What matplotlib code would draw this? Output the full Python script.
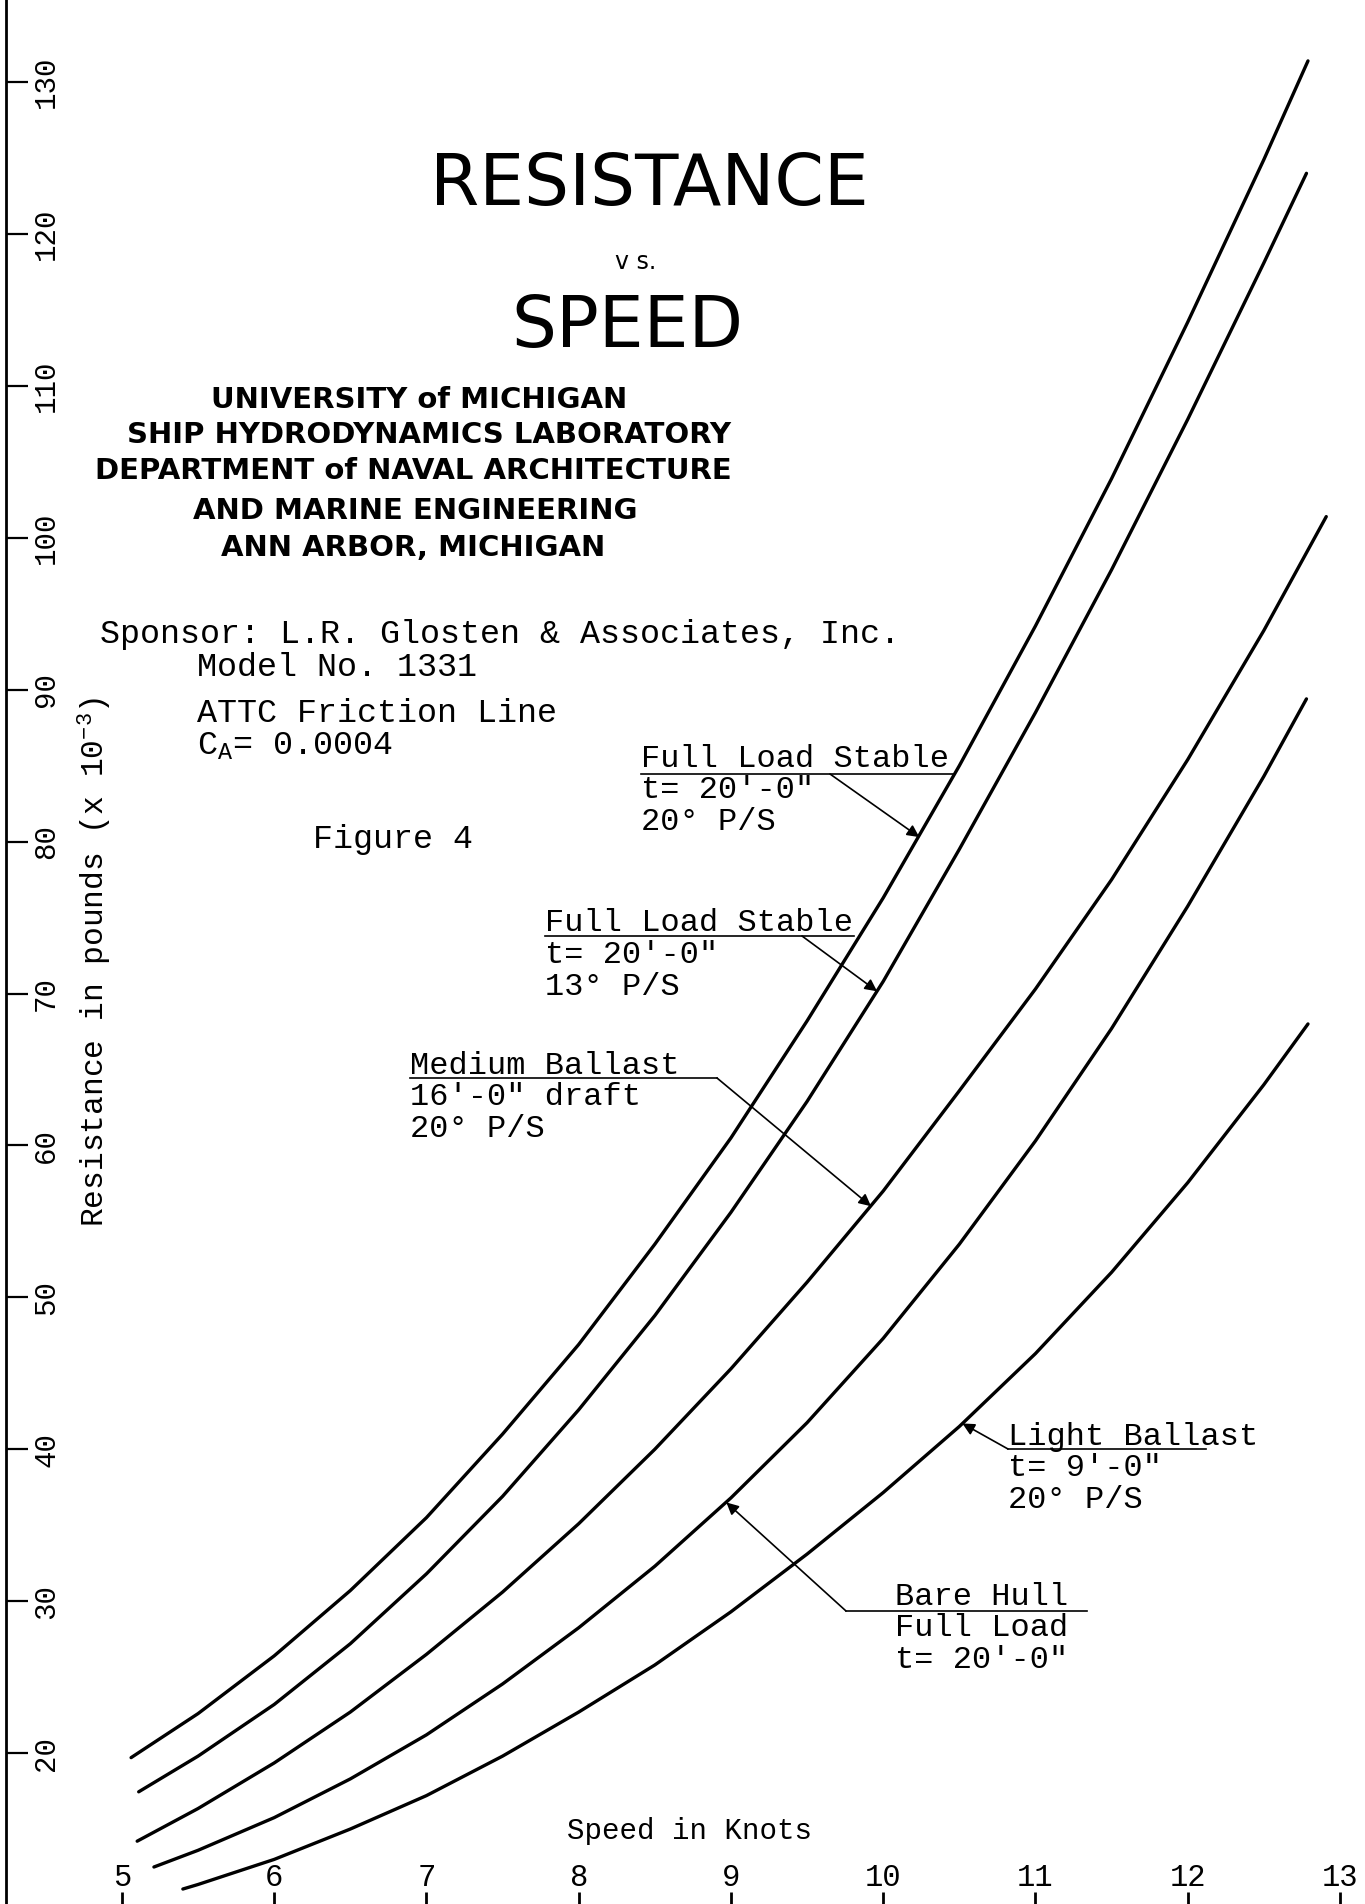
import matplotlib
matplotlib.use('Agg')
import matplotlib.pyplot as plt

plt.rcParams['mathtext.fontset'] = 'custom'
plt.rcParams['mathtext.rm'] = 'Liberation Mono'
plt.rcParams['mathtext.it'] = 'Liberation Mono'

MONO = ['Liberation Mono', 'DejaVu Sans Mono']
SANS = ['DejaVu Sans']

# curves: speed (knots) / resistance (lb x 10^-3)
fl20_speed = [5.06, 5.5, 6, 6.5, 7, 7.5, 8, 8.5, 9, 9.5, 10, 10.5, 11, 11.5, 12, 12.5, 12.79]
fl20_res = [19.7, 22.6, 26.4, 30.7, 35.5, 41.0, 46.9, 53.5, 60.5, 68.2, 76.3, 85.0, 94.2, 103.9, 114.2, 124.9, 131.4]

fl13_speed = [5.11, 5.5, 6, 6.5, 7, 7.5, 8, 8.5, 9, 9.5, 10, 10.5, 11, 11.5, 12, 12.5, 12.78]
fl13_res = [17.45, 19.8, 23.2, 27.2, 31.8, 36.9, 42.6, 48.8, 55.6, 62.9, 70.8, 79.5, 88.5, 97.9, 107.8, 118.1, 124.0]

med_speed = [5.10, 5.5, 6, 6.5, 7, 7.5, 8, 8.5, 9, 9.5, 10, 10.5, 11, 11.5, 12, 12.5, 12.91]
med_res = [14.2, 16.35, 19.35, 22.7, 26.5, 30.6, 35.1, 40.0, 45.3, 51.0, 57.0, 63.6, 70.3, 77.5, 85.4, 93.9, 101.4]

bare_speed = [5.21, 5.5, 6, 6.5, 7, 7.5, 8, 8.5, 9, 9.5, 10, 10.5, 11, 11.5, 12, 12.5, 12.78]
bare_res = [12.5, 13.6, 15.75, 18.3, 21.2, 24.55, 28.25, 32.3, 36.8, 41.75, 47.3, 53.5, 60.3, 67.7, 75.75, 84.3, 89.4]

light_speed = [5.40, 5.5, 6, 6.5, 7, 7.5, 8, 8.5, 9, 9.5, 10, 10.5, 11, 11.5, 12, 12.5, 12.79]
light_res = [11.05, 11.35, 13.0, 15.0, 17.2, 19.8, 22.7, 25.8, 29.3, 33.1, 37.15, 41.5, 46.3, 51.65, 57.55, 64.0, 68.0]

x_ticks = [5, 6, 7, 8, 9, 10, 11, 12, 13]
y_ticks = [20, 30, 40, 50, 60, 70, 80, 90, 100, 110, 120, 130]

# where the arrows touch the curves
tip_fl20 = (10.237, 80.3)
tip_fl13 = (9.96, 70.15)
tip_med = (9.92, 56.0)
tip_bare = (8.97, 36.5)
tip_light = (10.52, 41.7)

X0, Y1 = 4.199, 135.41
KPX, VPX = 152.25, 15.19


def px(x, y):
    # page pixel -> data
    return X0 + x / KPX, Y1 - y / VPX


fig = plt.figure(figsize=(13.65, 19.04), dpi=100)
ax = fig.add_axes([0, 0, 1, 1])
ax.set_xlim(X0, X0 + 1365 / KPX)
ax.set_ylim(Y1 - 1904 / VPX, Y1)

for s, r in [(fl20_speed, fl20_res), (fl13_speed, fl13_res), (med_speed, med_res),
             (bare_speed, bare_res), (light_speed, light_res)]:
    ax.plot(s, r, color='black', lw=2.4, solid_capstyle='round', solid_joinstyle='round')

# axes
for side in ['top', 'right', 'bottom']:
    ax.spines[side].set_visible(False)
ax.spines['left'].set_position(('data', px(6, 0)[0]))
ax.spines['left'].set_linewidth(2)
ax.set_yticks(y_ticks)
ax.set_xticks(x_ticks)
ax.tick_params(axis='y', direction='in', length=16, width=1.6, labelleft=False)
ax.tick_params(axis='x', direction='in', length=9, width=2, labelbottom=False)

for v in y_ticks:
    ax.text(px(46, 0)[0], v, str(v), rotation=90, ha='center', va='center',
            family=MONO, size=21)
for k in x_ticks:
    ax.text(k, px(0, 1878)[1], str(k), ha='center', va='center', family=MONO, size=22)

ax.text(*px(689, 1831), 'Speed in Knots', ha='center', va='center', family=MONO, size=21)
ax.text(*px(95, 962), 'Resistance in pounds (x 10$^{-3}$)', rotation=90,
        ha='center', va='center', family=MONO, size=22.5)

# title block
ax.text(*px(649, 186), 'RESISTANCE', ha='center', va='center', family=SANS, size=51)
ax.text(*px(636, 262), 'v s.', ha='center', va='center', family=SANS, size=17)
ax.text(*px(627, 328), 'SPEED', ha='center', va='center', family=SANS, size=51)

inst = ['UNIVERSITY of MICHIGAN', 'SHIP HYDRODYNAMICS LABORATORY',
        'DEPARTMENT of NAVAL ARCHITECTURE', 'AND MARINE ENGINEERING',
        'ANN ARBOR, MICHIGAN']
inst_x = [419, 429, 413, 415, 413]
inst_y = [400, 435, 471, 511, 548]
for t, x, y in zip(inst, inst_x, inst_y):
    ax.text(*px(x, y), t, ha='center', va='center', family=SANS, weight='bold', size=21)

ax.text(*px(100, 635), 'Sponsor: L.R. Glosten & Associates, Inc.', va='center',
        family=MONO, size=24)
ax.text(*px(197, 667), 'Model No. 1331', va='center', family=MONO, size=24)
ax.text(*px(197, 714), 'ATTC Friction Line', va='center', family=MONO, size=24)
ax.text(*px(197, 746), 'C$_\\mathrm{A}$= 0.0004', va='center', family=MONO, size=24)
ax.text(*px(313, 840), 'Figure 4', va='center', family=MONO, size=24)


def label(lines, x, y0, dy, ul, lead, tip):
    for i, t in enumerate(lines):
        ax.text(*px(x, y0 + i * dy), t, va='center', family=MONO, size=23)
    ax.plot(*zip(px(ul[0], ul[2]), px(ul[1], ul[2])), color='black', lw=1.2)
    ax.annotate('', xy=tip, xytext=px(lead, ul[2]),
                arrowprops=dict(arrowstyle='-|>', color='black', lw=1.2,
                                mutation_scale=18, shrinkA=0, shrinkB=0))


label(['Full Load Stable', 't= 20\'-0"', '20\u00b0 P/S'], 641, 759, 31.5,
      (641, 953, 774), 830, tip_fl20)
label(['Full Load Stable', 't= 20\'-0"', '13\u00b0 P/S'], 545, 923, 32,
      (545, 854, 936), 802, tip_fl13)
label(['Medium Ballast', '16\'-0" draft', '20\u00b0 P/S'], 410, 1066, 31.5,
      (410, 717, 1078), 717, tip_med)
label(['Light Ballast', 't= 9\'-0"', '20\u00b0 P/S'], 1008, 1437, 31.5,
      (1008, 1206, 1449), 1008, tip_light)
label(['Bare Hull', 'Full Load', 't= 20\'-0"'], 895, 1597, 31.5,
      (846, 1087, 1611), 846, tip_bare)

fig.savefig('out.png', dpi=100)
